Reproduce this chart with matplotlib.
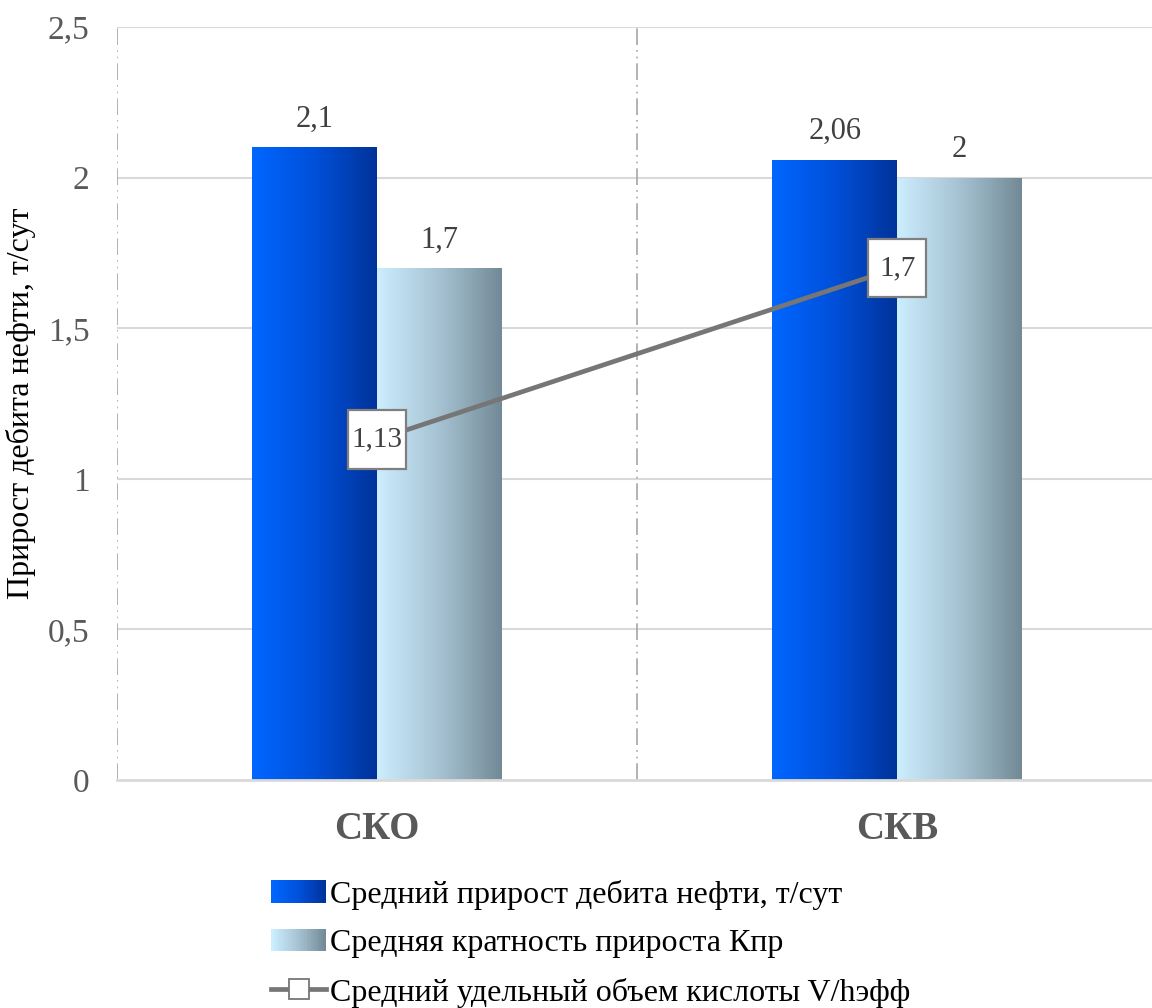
import numpy as np
import matplotlib.pyplot as plt
from matplotlib.colors import LinearSegmentedColormap
from matplotlib.patches import Rectangle
from matplotlib.lines import Line2D
from matplotlib.path import Path
from matplotlib.legend_handler import HandlerBase

plt.rcParams['font.family'] = ['Liberation Serif', 'DejaVu Serif']

categories = ['СКО', 'СКВ']
debit_gain = [2.1, 2.06]          # Средний прирост дебита нефти, т/сут
gain_ratio = [1.7, 2.0]           # Средняя кратность прироста Кпр
acid_volume = [1.13, 1.7]         # Средний удельный объем кислоты V/hэфф
y_ticks = [0, 0.5, 1, 1.5, 2, 2.5]

names = ['Средний прирост дебита нефти, т/сут',
         'Средняя кратность прироста Кпр',
         'Средний удельный объем кислоты V/hэфф']

blue_cmap = LinearSegmentedColormap.from_list('blue', ['#0066FF', '#0050DA', '#00339A'])
grey_cmap = LinearSegmentedColormap.from_list('grey', ['#CCEEFF', '#A6C2D2', '#728A96'])


def fmt(v):
    return ('%g' % v).replace('.', ',')


def label_box(x0, y0, width, height, mutation_size):
    # boxes of equal minimum width, taller than the text
    px, py = 0.13 * mutation_size, 0.56 * mutation_size
    bw = max(width + 2 * px, 1.98 * mutation_size)
    cx = x0 + width / 2
    x0, x1 = cx - bw / 2, cx + bw / 2
    y0, y1 = y0 - py, y0 + height + py
    return Path([(x0, y0), (x1, y0), (x1, y1), (x0, y1), (x0, y0)], closed=True)


class GradientHandler(HandlerBase):
    def __init__(self, cmap):
        super().__init__()
        self.cmap = cmap

    def create_artists(self, legend, orig_handle, xdescent, ydescent,
                       width, height, fontsize, trans):
        n = 40
        out = []
        for i in range(n):
            r = Rectangle((-xdescent + i * width / n, -ydescent),
                          width / n * 1.05, height,
                          facecolor=self.cmap(i / (n - 1)), edgecolor='none',
                          transform=trans)
            out.append(r)
        return out


fig = plt.figure(figsize=(11.52, 10.08), dpi=100)
ax = fig.add_axes([0.1016, 0.2262, 0.8984, 0.747])

x = np.arange(len(categories))
w = 0.24

# horizontal grid and category separators
for t in y_ticks[1:]:
    ax.axhline(t, color='#D9D9D9', lw=1.5, zorder=0)
for sep in [-0.5, 0.5]:
    ax.axvline(sep, color='#A6A6A6', lw=1.2, linestyle=(0, (10, 3, 1, 3, 1, 3)), zorder=0)

# gradient bars
grad = np.linspace(0, 1, 256).reshape(1, -1)
for vals, offset, cmap in [(debit_gain, -w / 2, blue_cmap), (gain_ratio, w / 2, grey_cmap)]:
    bars = ax.bar(x + offset, vals, w, facecolor='none', edgecolor='none', zorder=2)
    for b, v in zip(bars, vals):
        x0, y0 = b.get_x(), b.get_y()
        im = ax.imshow(grad, cmap=cmap, aspect='auto', zorder=2,
                       extent=(x0, x0 + b.get_width(), y0, y0 + b.get_height()))
        im.set_clip_path(b)
        ax.text(b.get_x() + b.get_width() / 2, v + 0.045, fmt(v), ha='center', va='bottom',
                fontsize=22, color='#404040', zorder=5)

ax.set_xlim(-0.5, 1.49)
ax.set_ylim(0, 2.5)

# line series with boxed labels
ax.plot(x, acid_volume, color='#767676', lw=3.4, zorder=3, solid_capstyle='butt')
for xi, v in zip(x, acid_volume):
    ax.text(xi, v, fmt(v), ha='center', va='center', fontsize=21, color='#404040', zorder=6,
            bbox=dict(boxstyle=label_box, facecolor='white', edgecolor='#7F7F7F', lw=1.6))

for s in ['top', 'right', 'left']:
    ax.spines[s].set_visible(False)
ax.spines['bottom'].set_color('#D9D9D9')
ax.spines['bottom'].set_linewidth(2)

ax.set_yticks(y_ticks)
ax.set_yticklabels([fmt(t) for t in y_ticks], fontsize=24, color='#595959')
ax.set_xticks(x)
ax.set_xticklabels(categories, fontsize=28, fontweight='bold', color='#595959')
ax.tick_params(axis='both', length=0)
ax.tick_params(axis='y', pad=20)
ax.tick_params(axis='x', pad=22)
ax.set_ylabel('Прирост дебита нефти, т/сут', fontsize=23, color='black')
ax.yaxis.set_label_coords(-0.078, 0.5)

handles = [Rectangle((0, 0), 1, 1), Rectangle((0, 0), 1, 1),
           Line2D([], [], color='#767676', lw=3.4, marker='s', markersize=14,
                  markerfacecolor='white', markeredgecolor='#767676', markeredgewidth=1.3)]
fig.legend(handles, names, loc='upper left', bbox_to_anchor=(0.2216, 0.143),
           frameon=False, fontsize=23, handlelength=1.72, handletextpad=0.12,
           labelspacing=0.6, borderpad=0,
           handler_map={handles[0]: GradientHandler(blue_cmap),
                        handles[1]: GradientHandler(grey_cmap)})

fig.savefig('out.png', dpi=100)
